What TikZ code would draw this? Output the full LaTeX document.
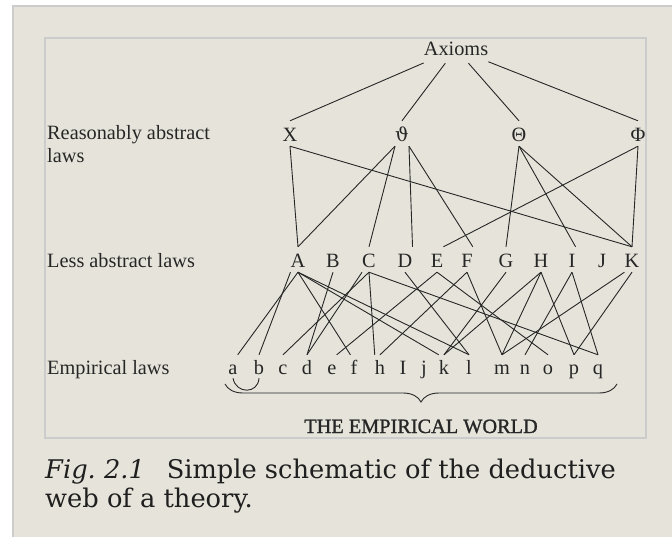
\documentclass[tikz,border=0pt]{standalone}
\usepackage{fontspec}
\setmainfont{Liberation Serif}
\newfontfamily\capfont{DejaVu Serif}
\newfontfamily\grk{DejaVu Serif}
\usetikzlibrary{decorations.pathreplacing}
\definecolor{paper}{RGB}{230,228,218}
\definecolor{rim}{RGB}{204,204,204}
\definecolor{ink}{RGB}{38,38,38}

\begin{document}
\begin{tikzpicture}[x=1pt,y=-1pt,
  lab/.style={anchor=base west,inner sep=0pt,font=\fontsize{20.3}{23}\selectfont,text=ink},
  up/.style={anchor=base,inner sep=0pt,text height=21pt,text depth=4pt,font=\fontsize{20.3}{23}\selectfont,text=ink},
  lo/.style={up,text height=19pt},
  captext/.style={anchor=base west,inner sep=0pt,font=\capfont\fontsize{25.7}{29}\selectfont,text=black!88},
  ln/.style={draw=ink,line width=0.9pt}
]
\useasboundingbox (0,0) rectangle (672,537);
\clip (0,0) rectangle (672,537);
\fill[white] (0,0) rectangle (672,537);
\filldraw[fill=paper,draw=rim,line width=1.5pt] (13,6) rectangle (700,570);
\draw[rim,line width=1.5pt] (45,38) rectangle (646,438);

\node[lab] (ra) at (47,140) {Reasonably abstract};
\node[lab] (rb) at (47,163) {laws};
\node[lab] (less) at (47,268) {Less abstract laws};
\node[lab] (emp) at (47,374) {Empirical laws};

\node[up,text depth=7pt] (ax) at (456,56) {Axioms};
\node[up] (X) at (290,142) {Χ};
\node[up,font=\grk\fontsize{19}{23}\selectfont] (th) at (402,142) {ϑ};
\node[up] (Th) at (519,142) {Θ};
\node[up] (Ph) at (638,142) {Φ};
\foreach \n/\x in {A/298,B/333,C/369,D/405,E/437,F/467,G/506,H/541,I/572,J/602,K/632}
  \node[up] (\n) at (\x,268) {\n};
\foreach \n/\x in {a/233,b/259,c/283,d/307,e/332,f/354,h/380,I/403,j/424,k/444,l/469,m/502,n/525,o/548,p/574,q/598}
  \node[lo] (e\n) at (\x,374) {\n};

\draw[ln] (ax)--(X.north); \draw[ln] (ax)--(th.north); \draw[ln] (ax)--(Th.north); \draw[ln] (ax)--(Ph.north);

\draw[ln] (X.south)--(A.north); \draw[ln] (X.south)--(K.north);
\draw[ln] (th.south west)--(A.north); \draw[ln] (th.south west)--(C.north);
\draw[ln] (th.south east)--(D.north east); \draw[ln] (th.south east)--(F.north east);
\draw[ln] (Th.south)--(G.north); \draw[ln] (Th.south)--(I.north east); \draw[ln] (Th.south)--(K.north);
\draw[ln] (Ph.south)--(E.north east); \draw[ln] (Ph.south)--(K.north);

\draw[ln] (A.south)--(ea.north east); \draw[ln] (A.south west)--(eb.north); \draw[ln] (A.south)--(ef.north west);
\draw[ln] (A.south)--(ek.north west); \draw[ln] (A.south)--(el.north);
\draw[ln] (B.south)--(ed.north);
\draw[ln] (C.south west)--(ed.north); \draw[ln] (C.south)--(ec.north); \draw[ln] (C.south)--(eh.north west); \draw[ln] (C.south)--(eq.north);
\draw[ln] (D.south)--(el.north);
\draw[ln] (E.south)--(ee.north east); \draw[ln] (E.south)--(eo.north);
\draw[ln] (F.south)--(eh.north); \draw[ln] (F.south)--(em.north);
\draw[ln] (G.south)--(ek.north);
\draw[ln] (H.south)--(ek.north); \draw[ln] (H.south)--(em.north); \draw[ln] (H.south)--(ep.north);
\draw[ln] (I.south)--(en.north); \draw[ln] (I.south)--(eq.north);
\draw[ln] (K.south west)--(em.north); \draw[ln] (K.south)--(ep.north);

\draw[ln] (ea.south) .. controls +(3,16) and +(-1,16) .. (eb.south);

\coordinate (bl) at (225,384);
\coordinate (br) at (617,384);
\draw[ln,decorate,decoration={brace,mirror,amplitude=18pt}] (bl)--(br);
\node[up,font=\addfontfeature{FakeBold=1.2}\fontsize{20.3}{23}\selectfont] (world) at (421,433) {THE EMPIRICAL WORLD};

\node[captext] (cap1) at (45,478) {{\itshape Fig.~2.1}\hspace{0.85em}Simple schematic of the deductive};
\node[captext] (cap2) at (45,507) {web of a theory.};
\end{tikzpicture}
\end{document}
